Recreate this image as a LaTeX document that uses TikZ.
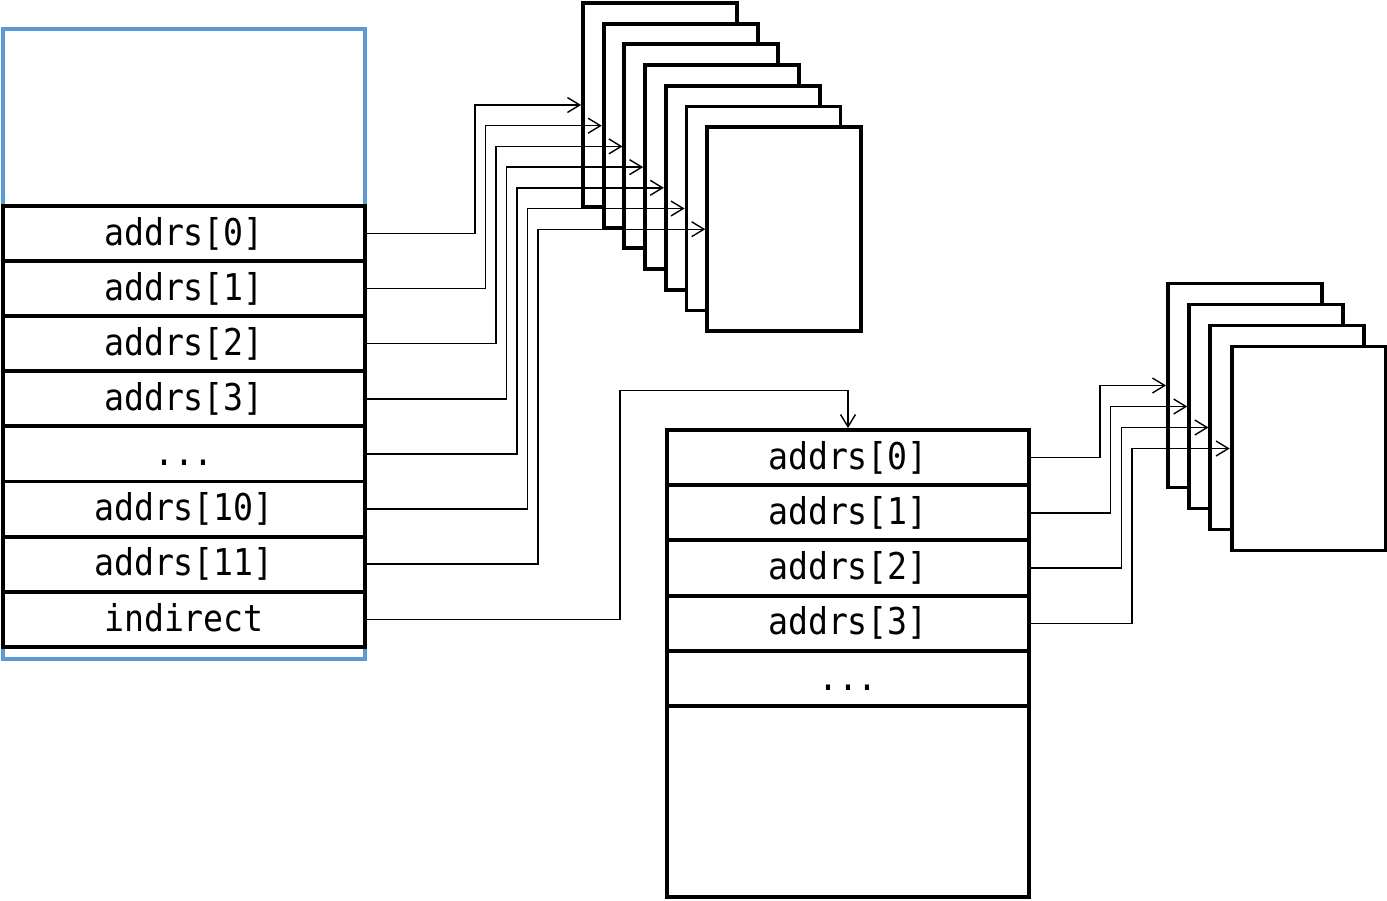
\documentclass[tikz,border=0pt]{standalone}
\usepackage{fontspec}
\newfontfamily\cellfont[FakeStretch=0.9]{DejaVu Sans Mono}
\usetikzlibrary{arrows.meta}
\definecolor{frameblue}{HTML}{5B9BD5}

\begin{document}
\begin{tikzpicture}[x=0.02cm, y=-0.02cm,
    cell/.style={draw, line width=2.2pt, minimum width=7.24cm, minimum height=1.102cm, inner sep=0pt,
        font=\cellfont\fontsize{21}{22}\selectfont, text height=17pt, text depth=3.6pt},
    page/.style={draw, fill=white, line width=2.2pt, minimum width=3.08cm, minimum height=4.08cm, inner sep=0pt},
    link/.style={line width=0.8pt, -{Straight Barb[length=7pt, width=8.5pt]}}]
    \def\rowA{55.1}
    \def\rowB{55.2}
    \def\skipdots{.{}.{}.}
    \useasboundingbox (0,0) rectangle (1387,900);

    % Inode frame
    \draw[frameblue, line width=2.1pt] (3,29) rectangle (365,659);

    % Inode entries
    \foreach \lbl [count=\i from 0] in {addrs[0],addrs[1],addrs[2],addrs[3],\skipdots,addrs[10],addrs[11],indirect} {
        \node[cell] (d\i) at (184,206+\rowA/2+\rowA*\i) {\lbl};
    }

    % Indirect block
    \foreach \lbl [count=\i from 0] in {addrs[0],addrs[1],addrs[2],addrs[3],\skipdots} {
        \node[cell] (q\i) at (848,430+\rowB/2+\rowB*\i) {\lbl};
    }
    \node[cell, minimum height=3.82cm] (qfree) at (848,801.5) {};

    % Data blocks
    \foreach \i in {0,...,6} {
        \node[page] (p\i) at (660+20.7*\i,105+20.7*\i) {};
    }
    \foreach \i in {0,...,3} {
        \node[page] (s\i) at (1245+21.2*\i,385.5+21*\i) {};
    }

    % Pointers
    \foreach \i in {0,...,6} {
        \draw[link] (d\i.east) -- ++(108+10.5*\i,0) |- (p\i.west);
    }
    \foreach \i in {0,...,3} {
        \draw[link] (q\i.east) -- ++(69+10.7*\i,0) |- (s\i.west);
    }
    \draw[link] (d7.east) -- ++(253,0) -- ++(0,-229) -| (q0.north);

\end{tikzpicture}
\end{document}
